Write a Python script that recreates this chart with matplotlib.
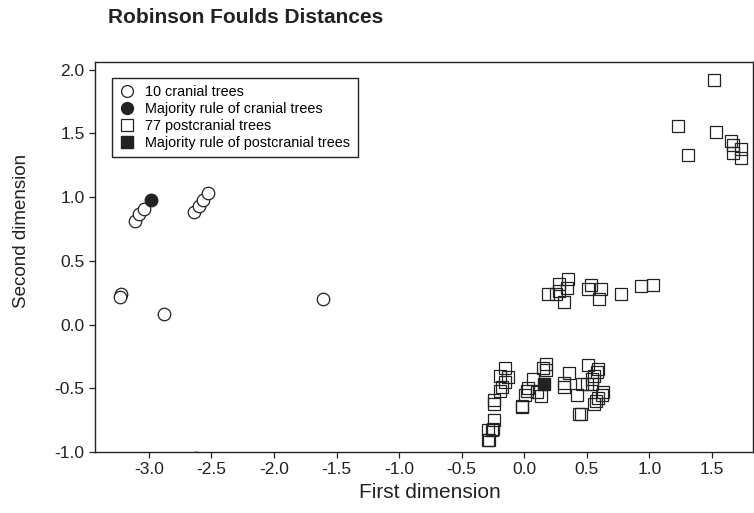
import matplotlib.pyplot as plt
import numpy as np

plt.rcParams['font.family'] = ['Liberation Sans', 'DejaVu Sans']

# cranial trees (open circles)
cranial_x = [-3.11, -3.08, -3.04, -2.64, -2.60, -2.57, -2.53, -3.22, -3.23, -2.88, -1.61, -2.62]
cranial_y = [0.81, 0.87, 0.91, 0.88, 0.93, 0.98, 1.03, 0.24, 0.22, 0.08, 0.20, -1.045]
# majority rule of cranial trees
cranial_mr_x = [-2.98]
cranial_mr_y = [0.98]

# postcranial trees (open squares)
post_x = [0.35, 0.28, 0.34, 0.19, 0.25, 0.28, 0.32, 0.53, 0.51, 0.61, 0.60, 0.77, 0.93, 1.03,
          -0.15, -0.19, -0.13, -0.15, -0.18, -0.19, -0.24, -0.24, -0.24, -0.29, -0.26, -0.29, -0.28, -0.25,
          0.17, 0.15, 0.17, 0.07, 0.02, 0.01, 0.13, -0.02, -0.02, 0.03, 0.10,
          0.51, 0.59, 0.58, 0.36, 0.56, 0.54, 0.32, 0.32, 0.46, 0.50, 0.54, 0.42, 0.63, 0.62, 0.59,
          0.57, 0.56, 0.45, 0.44,
          1.52, 1.23, 1.53, 1.31, 1.65, 1.67, 1.73, 1.67, 1.73]
post_y = [0.36, 0.32, 0.29, 0.24, 0.24, 0.26, 0.18, 0.31, 0.28, 0.28, 0.20, 0.24, 0.30, 0.31,
          -0.34, -0.40, -0.41, -0.45, -0.49, -0.52, -0.59, -0.62, -0.75, -0.83, -0.83, -0.91, -0.91, -0.82,
          -0.31, -0.34, -0.36, -0.43, -0.52, -0.55, -0.56, -0.64, -0.65, -0.50, -0.53,
          -0.32, -0.35, -0.37, -0.38, -0.40, -0.43, -0.46, -0.49, -0.47, -0.47, -0.47, -0.55, -0.53, -0.55, -0.58,
          -0.60, -0.62, -0.70, -0.70,
          1.92, 1.56, 1.51, 1.33, 1.44, 1.41, 1.38, 1.35, 1.31]
# majority rule of postcranial trees
post_mr_x = [0.16]
post_mr_y = [-0.47]

xticks = [-3.0, -2.5, -2.0, -1.5, -1.0, -0.5, 0.0, 0.5, 1.0, 1.5]
yticks = [-1.0, -0.5, 0.0, 0.5, 1.0, 1.5, 2.0]

fig = plt.figure(figsize=(7.54, 5.13), dpi=100)
ax = fig.add_axes([0.126, 0.119, 0.873, 0.760])

ms = 9
ax.plot(cranial_x, cranial_y, 'o', ms=ms, mfc='white', mec='#222222', mew=0.9,
        linestyle='none', label='10 cranial trees')
ax.plot(cranial_mr_x, cranial_mr_y, 'o', ms=ms, mfc='#222222', mec='#222222',
        linestyle='none', label='Majority rule of cranial trees')
ax.plot(post_x, post_y, 's', ms=ms, mfc='none', mec='#222222', mew=0.9,
        linestyle='none', label='77 postcranial trees')
ax.plot(post_mr_x, post_mr_y, 's', ms=ms, mfc='#222222', mec='#222222',
        linestyle='none', label='Majority rule of postcranial trees')

ax.set_xlim(-3.43, 1.83)
ax.set_ylim(-1.0, 2.06)
ax.set_xticks(xticks)
ax.set_yticks(yticks)
ax.set_xticklabels(['%.1f' % v for v in xticks])
ax.set_yticklabels(['%.1f' % v for v in yticks])
ax.tick_params(direction='out', length=4, width=0.9, labelsize=12.5, colors='#222222')
for s in ax.spines.values():
    s.set_linewidth(1.0)
    s.set_color('#222222')

ax.set_xlabel('First dimension', fontsize=15, color='#222222', va='top')
ax.xaxis.set_label_coords(0.509, -0.079)
ax.set_ylabel('Second dimension', fontsize=13.5, color='#222222')
ax.yaxis.set_label_coords(-0.099, 0.567)

leg = ax.legend(loc='upper left', bbox_to_anchor=(0.026, 0.959), borderaxespad=0,
                fontsize=10.4, frameon=True, fancybox=False, edgecolor='#222222',
                framealpha=1, handlelength=1.0, handletextpad=0.8, labelspacing=0.2,
                borderpad=0.5, markerscale=0.95)
leg.get_frame().set_linewidth(1.0)

fig.text(0.143, 0.965, 'Robinson Foulds Distances', fontsize=15, fontweight='bold',
         color='#222222', va='center', ha='left')

plt.savefig('out.png', dpi=100)
